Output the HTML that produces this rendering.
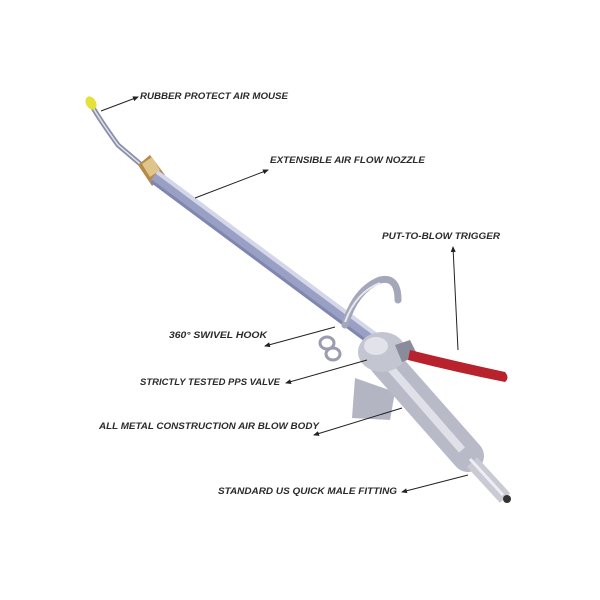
<!DOCTYPE html>
<html><head><meta charset="utf-8"><style>
html,body{margin:0;padding:0;background:#fff;width:600px;height:600px;overflow:hidden}
text{font-family:"Liberation Sans",sans-serif;font-weight:bold;font-style:italic;font-size:9px;fill:#2a2a2a}
</style></head><body>
<svg width="600" height="600" viewBox="0 0 600 600" xmlns="http://www.w3.org/2000/svg">
<defs>
<marker id="ah" markerWidth="6" markerHeight="6" refX="5" refY="3" orient="auto"><path d="M0,0.5 L6,3 L0,5.5 z" fill="#222"/></marker>
</defs>
<!-- nozzle bent tip -->
<path d="M92,106 Q100,120 118,145 L145,168" stroke="#8a8fa8" stroke-width="5" fill="none"/>
<path d="M92,106 Q100,120 118,145 L145,168" stroke="#dfe0ea" stroke-width="1.5" fill="none"/>
<ellipse cx="91" cy="103" rx="5" ry="7" fill="#e4e23a" transform="rotate(-30 91 103)"/>
<!-- brass -->
<path d="M138,165 L150,155 L165,175 L152,186 Z" fill="#b58a4a"/>
<path d="M142,164 L152,157 L160,170 L150,177 Z" fill="#e0c58a"/>
<!-- main tube -->
<line x1="154" y1="176" x2="372" y2="338" stroke="#9aa0c4" stroke-width="14"/>
<line x1="157" y1="172" x2="375" y2="334" stroke="#d4d7ea" stroke-width="4"/>
<line x1="151" y1="181" x2="369" y2="343" stroke="#7f86b0" stroke-width="3"/>
<!-- hook -->
<path d="M345,325 Q355,290 380,280 Q398,276 398,300" stroke="#a4a7ba" stroke-width="7" fill="none" stroke-linecap="round"/>
<path d="M345,322 Q356,292 380,283" stroke="#e8e9f0" stroke-width="2" fill="none"/>
<!-- rings -->
<ellipse cx="327" cy="343" rx="7" ry="6" fill="none" stroke="#9a9db0" stroke-width="3"/>
<ellipse cx="333" cy="354" rx="7" ry="6" fill="none" stroke="#9a9db0" stroke-width="3"/>
<!-- body -->
<path d="M355,378 L395,392 L390,420 L352,418 Z" fill="#b3b5c3"/>
<line x1="385" y1="362" x2="468" y2="456" stroke="#b8bac8" stroke-width="32" stroke-linecap="round"/>
<line x1="380" y1="356" x2="462" y2="450" stroke="#dfe0e8" stroke-width="8"/>
<ellipse cx="382" cy="352" rx="24" ry="20" fill="#c3c5d1"/>
<ellipse cx="376" cy="346" rx="12" ry="9" fill="#e2e3ea"/>
<line x1="472" y1="462" x2="505" y2="498" stroke="#c9cad4" stroke-width="14"/>
<line x1="470" y1="459" x2="503" y2="495" stroke="#eceef3" stroke-width="3"/>
<ellipse cx="507" cy="499" rx="4" ry="4" fill="#333"/>
<!-- valve + trigger -->
<path d="M395,345 L410,340 L418,356 L402,362 Z" fill="#8a8c9c"/>
<path d="M410,350 Q450,360 505,372 Q510,378 505,382 Q455,372 408,360 Z" fill="#b8222c"/>
<!-- arrows -->
<g stroke="#222" stroke-width="1" fill="none" marker-end="url(#ah)">
<line x1="101" y1="111" x2="138" y2="97"/>
<line x1="195" y1="198" x2="268" y2="170"/>
<line x1="458" y1="350" x2="453" y2="247"/>
<line x1="335" y1="327" x2="265" y2="346"/>
<line x1="367" y1="360" x2="286" y2="383"/>
<line x1="402" y1="408" x2="314" y2="435"/>
<line x1="468" y1="475" x2="402" y2="492"/>
</g>
<text x="140" y="99" textLength="148" lengthAdjust="spacingAndGlyphs">RUBBER PROTECT AIR MOUSE</text>
<text x="270" y="163" textLength="155" lengthAdjust="spacingAndGlyphs">EXTENSIBLE AIR FLOW NOZZLE</text>
<text x="382" y="239" textLength="118" lengthAdjust="spacingAndGlyphs">PUT-TO-BLOW TRIGGER</text>
<text x="169" y="338" textLength="98" lengthAdjust="spacingAndGlyphs">360° SWIVEL HOOK</text>
<text x="140" y="385" textLength="140" lengthAdjust="spacingAndGlyphs">STRICTLY TESTED PPS VALVE</text>
<text x="99" y="429" textLength="220" lengthAdjust="spacingAndGlyphs">ALL METAL CONSTRUCTION AIR BLOW BODY</text>
<text x="218" y="494" textLength="179" lengthAdjust="spacingAndGlyphs">STANDARD US QUICK MALE FITTING</text>
</svg>
</body></html>
